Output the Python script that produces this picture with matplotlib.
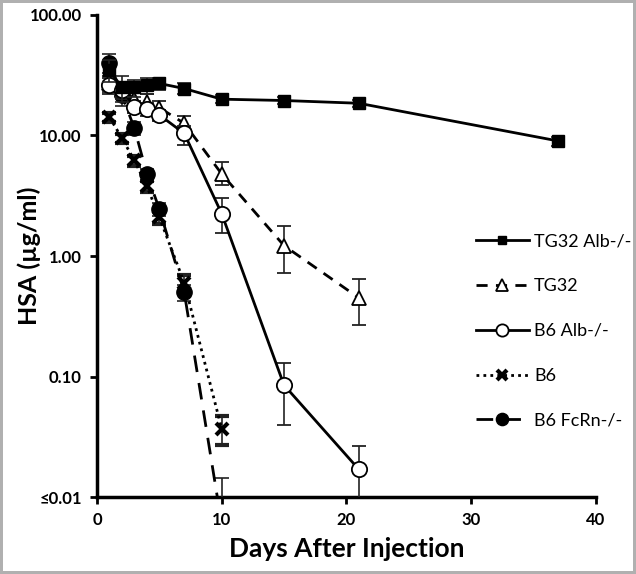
import numpy as np
import matplotlib.pyplot as plt
from matplotlib.ticker import FixedLocator, NullLocator

plt.rcParams['font.family'] = ['Lato', 'DejaVu Sans']

# TG32 Alb-/-
d_tga = [1, 2, 3, 4, 5, 7, 10, 15, 21, 37]
v_tga = [35, 25, 25, 26, 27, 24.5, 20, 19.5, 18.5, 9.0]
e_tga = [7, 6, 4, 4, 3, 2.5, 1.5, 1.2, 1.2, 0.8]

# TG32
d_tg = [1, 2, 3, 4, 5, 7, 10, 15, 21]
v_tg = [27, 24, 20, 19, 17, 12.6, 4.8, 1.22, 0.45]
e_tg_lo = [4, 4, 3, 3, 2.5, 2, 0.9, 0.5, 0.18]
e_tg_hi = [4, 4, 3, 3, 2.5, 2, 1.2, 0.55, 0.19]

# B6 Alb-/-
d_b6a = [1, 2, 3, 4, 5, 7, 10, 15, 21]
v_b6a = [26, 24, 17.3, 16.5, 14.8, 10.4, 2.25, 0.085, 0.017]
e_b6a_lo = [4, 3, 2, 2, 1.5, 2, 0.7, 0.045, 0.0165]
e_b6a_hi = [4, 3, 2, 2, 1.5, 1.5, 0.75, 0.045, 0.0095]

# B6
d_b6 = [1, 2, 3, 4, 5, 7, 10]
v_b6 = [14.2, 9.5, 6.2, 3.8, 2.1, 0.6, 0.037]
e_b6 = [1.2, 0.8, 0.6, 0.4, 0.25, 0.1, 0.01]

# B6 FcRn-/-
d_fc = [1, 2, 3, 4, 5, 7, 10]
v_fc = [40, 21.5, 11.5, 4.8, 2.45, 0.5, 0.006]
e_fc = [7, 4, 1.5, 0.5, 0.3, 0.08, 0.0085]

fig = plt.figure(figsize=(6.36, 5.74), dpi=100)
fig.patch.set_edgecolor('#b0b0b0')
fig.patch.set_linewidth(3)
ax = fig.add_axes([0.1525, 0.134, 0.784, 0.840])

ekw = dict(ecolor='#222222', elinewidth=1.2, capsize=5, capthick=1.2)

ax.errorbar(d_fc, v_fc, yerr=e_fc, fmt='o', ls=(0, (6, 4)), color='black', lw=2,
            ms=11, mfc='black', mec='black', label='B6 FcRn-/-', zorder=3, **ekw)
ax.errorbar(d_b6, v_b6, yerr=e_b6, fmt='x', ls=(0, (1, 1.5)), color='black', lw=2,
            ms=9, mew=3, label='B6', zorder=3, **ekw)
ax.errorbar(d_tg, v_tg, yerr=[e_tg_lo, e_tg_hi], fmt='^', ls=(0, (4, 3)), color='black', lw=2,
            ms=10, mfc='white', mec='black', mew=1.3, label='TG32', zorder=4, **ekw)
ax.errorbar(d_b6a, v_b6a, yerr=[e_b6a_lo, e_b6a_hi], fmt='o', ls='-', color='black', lw=2,
            ms=11, mfc='white', mec='black', mew=1.3, label='B6 Alb-/-', zorder=5, **ekw)
ax.errorbar(d_tga, v_tga, yerr=e_tga, fmt='s', ls='-', color='black', lw=2,
            ms=8, mfc='black', mec='black', label='TG32 Alb-/-', zorder=6, **ekw)

ax.set_yscale('log')
ax.set_ylim(0.01, 100)
ax.set_xlim(0, 40)
ax.yaxis.set_major_locator(FixedLocator([0.01, 0.1, 1, 10, 100]))
ax.yaxis.set_minor_locator(NullLocator())
ax.set_yticklabels(['≤0.01', '0.10', '1.00', '10.00', '100.00'], fontweight='bold', fontsize=12)
ax.set_xticks([0, 10, 20, 30, 40])
ax.set_xticklabels(['0', '10', '20', '30', '40'], fontweight='bold', fontsize=12)

for s in ['top', 'right']:
    ax.spines[s].set_visible(False)
for s in ['left', 'bottom']:
    ax.spines[s].set_linewidth(2.5)
ax.tick_params(direction='out', length=5, width=2, pad=6)

ax.set_xlabel('Days After Injection', fontsize=19, fontweight='bold', labelpad=6)
ax.set_ylabel('HSA (µg/ml)', fontsize=18, fontweight='bold')
ax.yaxis.set_label_coords(-0.112, 0.5)

h, l = ax.get_legend_handles_labels()
order = [4, 2, 3, 1, 0]
leg = ax.legend([h[i][0] for i in order], [l[i] for i in order],
                loc='upper left', bbox_to_anchor=(0.728, 0.581), frameon=False,
                fontsize=13, handlelength=2.9, labelspacing=1.6, handletextpad=0.3,
                markerscale=0.8)

fig.savefig('out.png', dpi=100)
